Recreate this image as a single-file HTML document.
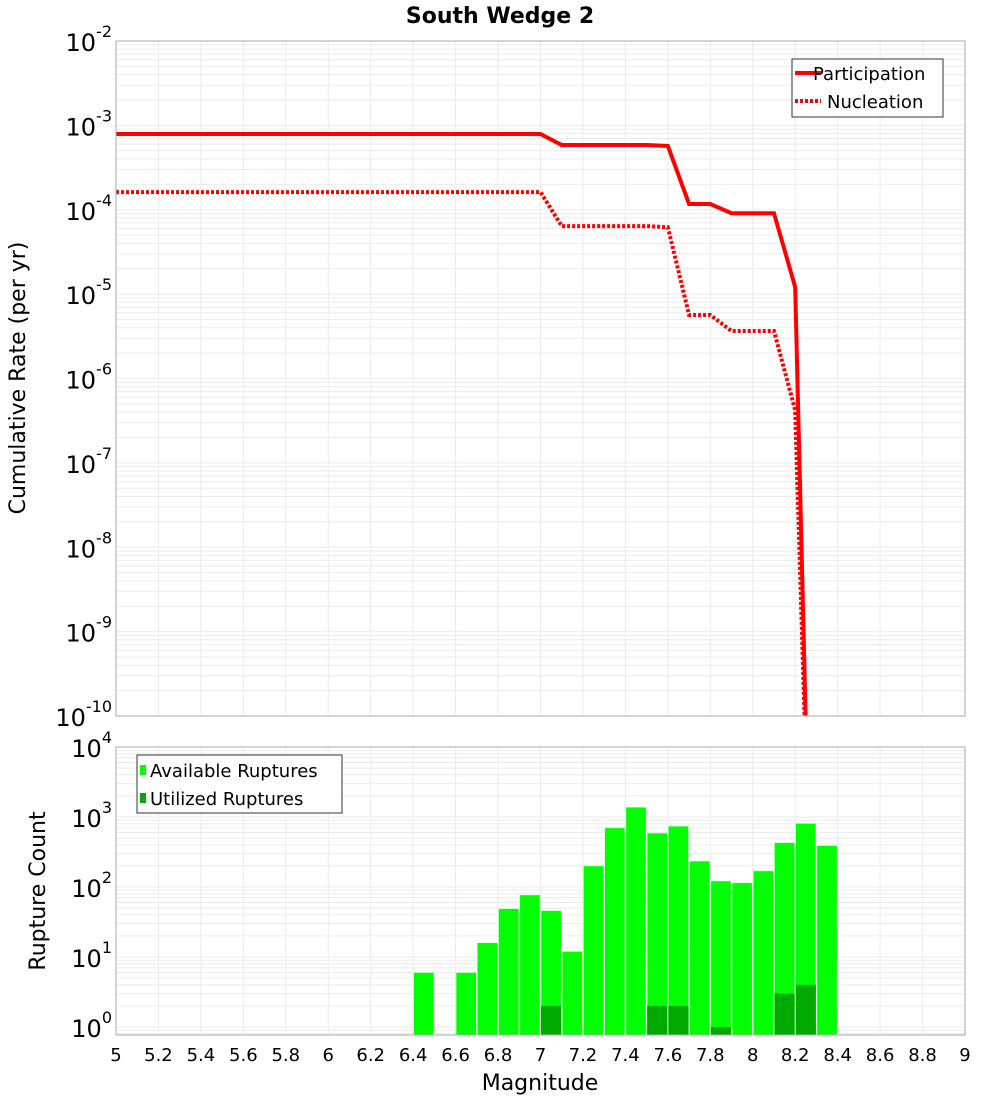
<!DOCTYPE html>
<html><head><meta charset="utf-8"><style>
body{margin:0;background:#fff;}
svg{display:block;font-family:"Liberation Sans","DejaVu Sans",sans-serif;}
</style></head><body>
<svg id="chart" width="1000" height="1100" viewBox="0 0 1000 1100" xmlns="http://www.w3.org/2000/svg">
<rect width="1000" height="1100" fill="#fff"/>
<text x="500" y="23" text-anchor="middle" font-size="22" font-weight="bold" font-family="DejaVu Sans, sans-serif">South Wedge 2</text>
<g id="topgrid"></g>
<g id="botgrid"></g>
<g id="bars"></g>
<g id="lines"></g>
<rect x="116" y="41" width="849" height="675" fill="none" stroke="#aaa"/>
<rect x="116" y="747" width="849" height="288" fill="none" stroke="#aaa"/>
<g id="ticks" font-family="DejaVu Sans, sans-serif"></g>
<text transform="translate(25,378) rotate(-90)" text-anchor="middle" font-size="22" font-family="DejaVu Sans, sans-serif">Cumulative Rate (per yr)</text>
<text transform="translate(45,891) rotate(-90)" text-anchor="middle" font-size="22" font-family="DejaVu Sans, sans-serif">Rupture Count</text>
<text x="540" y="1090" text-anchor="middle" font-size="22" font-family="DejaVu Sans, sans-serif">Magnitude</text>
<g font-family="DejaVu Sans, sans-serif">
<rect x="792" y="59" width="151" height="58" fill="#fff" stroke="#333"/>
<line x1="795" y1="73" x2="821" y2="73" stroke="red" stroke-width="4"/>
<text x="813" y="80" font-size="18">Participation</text>
<line x1="795" y1="101" x2="821" y2="101" stroke="red" stroke-width="4" stroke-dasharray="3,2"/>
<text x="827" y="108" font-size="18">Nucleation</text>
</g>
<g font-family="DejaVu Sans, sans-serif">
<rect x="137" y="755" width="205" height="58" fill="#fff" stroke="#333"/>
<rect x="140" y="765" width="6" height="10" fill="#00ff00"/>
<text x="150" y="777" font-size="18">Available Ruptures</text>
<rect x="140" y="793" width="6" height="10" fill="#00aa00"/>
<text x="150" y="805" font-size="18">Utilized Ruptures</text>
</g>
</svg>
<script>
const partMags = [5.0,7.0,7.1,7.5,7.6,7.7,7.8,7.9,8.1,8.2,8.25];
const partRates = [7.9e-4,7.9e-4,5.85e-4,5.85e-4,5.7e-4,1.17e-4,1.17e-4,9.1e-5,9.1e-5,1.21e-5,8e-11];
const nuclMags = [5.0,7.0,7.1,7.5,7.6,7.7,7.8,7.9,8.1,8.2,8.245];
const nuclRates = [1.62e-4,1.62e-4,6.4e-5,6.4e-5,6.2e-5,5.66e-6,5.66e-6,3.66e-6,3.66e-6,4.2e-7,8e-11];
const binCenters = [6.45,6.65,6.75,6.85,6.95,7.05,7.15,7.25,7.35,7.45,7.55,7.65,7.75,7.85,7.95,8.05,8.15,8.25,8.35];
const availCounts = [6,6,16,49,77,46,12,200,700,1380,590,740,235,122,115,170,430,810,390];
const utilCounts = [0,0,0,0,0,2,0,0,0,0,2,2,0,1,0,0,3,4,0];
const xTicks = [5,5.2,5.4,5.6,5.8,6,6.2,6.4,6.6,6.8,7,7.2,7.4,7.6,7.8,8,8.2,8.4,8.6,8.8,9];
const topExps = [-2,-3,-4,-5,-6,-7,-8,-9,-10];
const botExps = [4,3,2,1,0];

const NS="http://www.w3.org/2000/svg";
const X0=116,X1=965;
const xs=m=>X0+(m-5)/4*(X1-X0);
const TY0=41,TY1=716;
const ty=v=>TY0+(-2-Math.log10(v))*(TY1-TY0)/8;
const BY0=747,BY1=1035,BPD=70;
const by=v=>BY0+(4-Math.log10(v))*BPD;
function mk(tag,attrs,parent){const e=document.createElementNS(NS,tag);for(const k in attrs)e.setAttribute(k,attrs[k]);parent.appendChild(e);return e;}
const tg=document.getElementById('topgrid'),bg=document.getElementById('botgrid');
// grids
for(let d=-10;d<-2;d++){for(let k=1;k<10;k++){const y=ty(k*Math.pow(10,d));const l=mk('line',{x1:X0,x2:X1,y1:y,y2:y,stroke:'#ebebeb','stroke-width':1},tg);

}}
for(let d=-1;d<4;d++){for(let k=1;k<10;k++){const y=by(k*Math.pow(10,d));if(y>BY1||y<BY0)continue;const l=mk('line',{x1:X0,x2:X1,y1:y,y2:y,stroke:'#ebebeb','stroke-width':1},bg);

}}
xTicks.forEach(t=>{const x=xs(t);const a=mk('line',{x1:x,x2:x,y1:TY0,y2:TY1,stroke:'#ebebeb'},tg);


const b=mk('line',{x1:x,x2:x,y1:BY0,y2:BY1,stroke:'#ebebeb'},bg);

});
// bars
const bw=(xs(5.1)-xs(5));
const barsG=document.getElementById('bars');
binCenters.forEach((c,i)=>{
 if(availCounts[i]>0){const y=by(availCounts[i]);const r=mk('rect',{x:xs(c)-bw/2+0.5,y:y,width:bw-1,height:BY1-y,fill:'#00ff00',stroke:'#c8ffc8','stroke-width':0.6},barsG);
 
 }
 if(utilCounts[i]>0){const y=by(utilCounts[i]);const r=mk('rect',{x:xs(c)-bw/2+0.5,y:y,width:bw-1,height:BY1-y,fill:'#00aa00'},barsG);
 
 }
});
// lines
const lg=document.getElementById('lines');
mk('clipPath',{id:'tc'},lg).appendChild(Object.assign(document.createElementNS(NS,'rect'),{}));
lg.querySelector('#tc rect').setAttribute('x',X0);lg.querySelector('#tc rect').setAttribute('y',TY0);
lg.querySelector('#tc rect').setAttribute('width',X1-X0);lg.querySelector('#tc rect').setAttribute('height',TY1-TY0);
const pp=mk('polyline',{points:partMags.map((m,i)=>xs(m)+','+ty(partRates[i])).join(' '),fill:'none',stroke:'red','stroke-width':4,'clip-path':'url(#tc)','stroke-linejoin':'miter'},lg);


const np=mk('polyline',{points:nuclMags.map((m,i)=>xs(m)+','+ty(nuclRates[i])).join(' '),fill:'none',stroke:'red','stroke-width':4,'stroke-dasharray':'3,2','clip-path':'url(#tc)'},lg);


// ticks
const tk=document.getElementById('ticks');
xTicks.forEach(t=>{const e=mk('text',{x:xs(t),y:1061,'text-anchor':'middle','font-size':18},tk);e.textContent=String(t);

});
function expLabel(y,ex,name){const e=mk('text',{x:112,y:y+10,'text-anchor':'end','font-size':24},tk);


const s1=document.createElementNS(NS,'tspan');s1.textContent='10';e.appendChild(s1);
const s2=document.createElementNS(NS,'tspan');s2.setAttribute('dy','-14');s2.setAttribute('font-size','16');s2.textContent=String(ex);e.appendChild(s2);}
topExps.forEach(ex=>expLabel(ty(Math.pow(10,ex)),ex,'top-y-tick-label'));
botExps.forEach(ex=>expLabel(by(Math.pow(10,ex)),ex,'bottom-y-tick-label'));
</script>
</body></html>
